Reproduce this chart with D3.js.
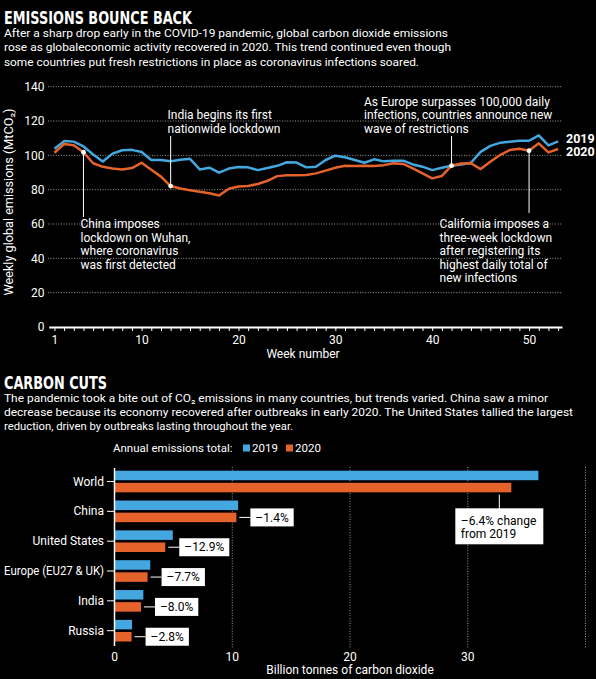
<!DOCTYPE html>
<html>
<head>
<meta charset="utf-8">
<script src="https://cdn.jsdelivr.net/npm/d3@7"></script>
<style>
  body { margin: 0; background: #000; }
  svg { display: block; font-family: Roboto, "Noto Sans", sans-serif; }
</style>
</head>
<body>
<div id="chart"></div>
<script>
// weekly global emissions (MtCO2), weeks 1-53
var weeks = d3.range(1, 54);
var weekly2019 = [103.8, 108.3, 108.0, 105.2, 100.5, 96.4, 101.0, 103.0, 103.2, 102.0,
  97.3, 97.3, 96.6, 97.5, 98.0, 91.8, 92.8, 89.9, 92.3, 93.2,
  93.0, 91.4, 92.6, 93.9, 96.0, 95.8, 93.0, 93.4, 97.3, 99.8,
  98.9, 97.3, 95.7, 97.7, 96.5, 96.9, 96.9, 94.7, 93.4, 91.4,
  92.8, 94.0, 94.7, 95.7, 102.0, 105.5, 107.3, 107.9, 108.5, 108.5,
  111.6, 105.8, 108.1];
var weekly2020 = [101.5, 106.6, 105.9, 101.8, 95.4, 93.3, 92.4, 91.8, 92.6, 95.7,
  91.6, 87.6, 82.1, 80.7, 79.7, 78.8, 77.9, 76.6, 80.5, 81.9,
  82.2, 83.3, 85.2, 87.9, 88.4, 88.4, 88.5, 89.5, 91.1, 92.8,
  93.9, 93.8, 94.0, 93.8, 94.3, 95.4, 95.0, 92.4, 89.5, 86.6,
  88.0, 94.0, 95.2, 95.4, 92.0, 96.3, 100.2, 103.1, 103.9, 102.7,
  107.0, 101.7, 103.7];
var yTicks = [0, 20, 40, 60, 80, 100, 120, 140];
var weekLabels = [1, 10, 20, 30, 40, 50];

// annual emissions (billion tonnes CO2)
var countries = ["World", "China", "United States", "Europe (EU27 & UK)", "India", "Russia"];
var total2019 = [36.0, 10.5, 4.95, 3.04, 2.45, 1.49];
var total2020 = [33.7, 10.35, 4.31, 2.81, 2.25, 1.45];
var changeLabels = ["\u20136.4% change", "\u20131.4%", "\u201312.9%", "\u20137.7%", "\u20138.0%", "\u20132.8%"];
var barTicks = [0, 10, 20, 30];
var barGrid = [10, 20, 30, 40];

var blue = "#45a7df", orange = "#e5622b";

var svg = d3.select("#chart").append("svg")
  .attr("width", 596).attr("height", 679);

svg.append("rect").attr("width", 596).attr("height", 679).attr("fill", "#000");

function heading(txt, x, y, len) {
  svg.append("text").attr("x", x).attr("y", y).text(txt)
    .attr("fill", "#fff")
    .style("font-family", "'Liberation Sans Narrow', 'DejaVu Sans Condensed', sans-serif")
    .style("font-weight", "bold").style("font-size", "18.5px")
    .attr("textLength", len).attr("lengthAdjust", "spacingAndGlyphs");
}
function para(lines, x, y0, lens) {
  lines.forEach(function (t, i) {
    svg.append("text").attr("x", x).attr("y", y0 + i * 14.4).text(t)
      .attr("fill", "#fff").style("font-size", "11.5px")
      .attr("textLength", lens[i]).attr("lengthAdjust", "spacingAndGlyphs");
  });
}

heading("EMISSIONS BOUNCE BACK", 4, 24.3, 188);
para(["After a sharp drop early in the COVID-19 pandemic, global carbon dioxide emissions",
      "rose as globaleconomic activity recovered in 2020. This trend continued even though",
      "some countries put fresh restrictions in place as coronavirus infections soared."],
  4, 37, [444, 447, 415]);

// ---- line chart ----
var x = d3.scaleLinear().domain([0.41, 53.4]).range([48.7, 562]);
var y = d3.scaleLinear().domain([0, 140]).range([327, 86.7]);

svg.append("g").selectAll("line").data(yTicks.filter(function (d) { return d > 0; }))
  .enter().append("line")
  .attr("x1", 48).attr("x2", 562)
  .attr("y1", function (d) { return y(d); }).attr("y2", function (d) { return y(d); })
  .attr("stroke", "#9a9a9a").attr("stroke-width", 1).attr("stroke-dasharray", "1,1.6");

svg.append("g").selectAll("text").data(yTicks).enter().append("text")
  .attr("x", 44.5).attr("y", function (d) { return y(d) + 4.3; })
  .attr("text-anchor", "end").attr("fill", "#fff").style("font-size", "12px")
  .text(function (d) { return d; });

var xAxis = svg.append("g").attr("transform", "translate(0,327)")
  .call(d3.axisBottom(x).tickValues(weeks).tickSize(4).tickSizeOuter(0).tickPadding(4)
    .tickFormat(function (d) { return weekLabels.indexOf(d) >= 0 ? d : ""; }));
xAxis.select(".domain").attr("stroke", "#fff").attr("stroke-width", 2);
xAxis.selectAll(".tick line").attr("stroke", "#fff");
xAxis.selectAll(".tick text").attr("fill", "#fff").style("font-size", "12px")
  .style("font-family", "Roboto, sans-serif");

svg.append("text").attr("x", 303).attr("y", 357.5).attr("text-anchor", "middle")
  .attr("fill", "#fff").style("font-size", "12px").text("Week number");

svg.append("text").attr("transform", "translate(12.5,202) rotate(-90)")
  .attr("text-anchor", "middle").attr("fill", "#fff").style("font-size", "12px")
  .attr("textLength", 187).attr("lengthAdjust", "spacingAndGlyphs")
  .text("Weekly global emissions (MtCO\u2082)");

var line = d3.line()
  .x(function (d, i) { return x(weeks[i]); })
  .y(function (d) { return y(d); });

svg.append("path").datum(weekly2019).attr("d", line)
  .attr("fill", "none").attr("stroke", blue).attr("stroke-width", 2.5).attr("stroke-linejoin", "round");
svg.append("path").datum(weekly2020).attr("d", line)
  .attr("fill", "none").attr("stroke", orange).attr("stroke-width", 2.5).attr("stroke-linejoin", "round");

svg.append("text").attr("x", 566).attr("y", 142.5).text("2019")
  .attr("fill", "#fff").style("font-size", "12.5px").style("font-weight", "bold");
svg.append("text").attr("x", 566).attr("y", 156).text("2020")
  .attr("fill", "#fff").style("font-size", "12.5px").style("font-weight", "bold");

// annotations on the 2020 line
var notes = [
  { week: 4, lineEnd: 217, tx: 80.5, ty: 228.3, lines: ["China imposes", "lockdown on Wuhan,", "where coronavirus", "was first detected"] },
  { week: 13, lineEnd: 136, tx: 167.5, ty: 119.3, lines: ["India begins its first", "nationwide lockdown"] },
  { week: 42, lineEnd: 136, tx: 364, ty: 105.8, lines: ["As Europe surpasses 100,000 daily", "infections, countries announce new", "wave of restrictions"] },
  { week: 50, lineEnd: 213, tx: 439.5, ty: 228.3, lines: ["California imposes a", "three-week lockdown", "after registering its", "highest daily total of", "new infections"] }
];
notes.forEach(function (n) {
  var px = x(n.week), py = y(weekly2020[n.week - 1]);
  svg.append("line").attr("x1", px).attr("x2", px).attr("y1", py).attr("y2", n.lineEnd)
    .attr("stroke", "#fff").attr("stroke-width", 1);
  svg.append("circle").attr("cx", px).attr("cy", py).attr("r", 2.4).attr("fill", "#fff");
  n.lines.forEach(function (t, i) {
    svg.append("text").attr("x", n.tx).attr("y", n.ty + i * 13.4).text(t)
      .attr("fill", "#fff").style("font-size", "12px");
  });
});

// ---- bar chart ----
heading("CARBON CUTS", 4, 388.5, 103);
para(["The pandemic took a bite out of CO\u2082 emissions in many countries, but trends varied. China saw a minor",
      "decrease because its economy recovered after outbreaks in early 2020. The United States tallied the largest",
      "reduction, driven by outbreaks lasting throughout the year."],
  4, 401.5, [544, 569, 289]);

svg.append("text").attr("x", 113).attr("y", 452).text("Annual emissions total:")
  .attr("fill", "#fff").style("font-size", "11.5px");
[["2019", blue, 243], ["2020", orange, 286]].forEach(function (l) {
  svg.append("rect").attr("x", l[2]).attr("y", 444.5).attr("width", 7).attr("height", 7).attr("fill", l[1]);
  svg.append("text").attr("x", l[2] + 9).attr("y", 452).text(l[0])
    .attr("fill", "#fff").style("font-size", "11.5px");
});

var xb = d3.scaleLinear().domain([0, 40]).range([114.5, 585.5]);
var yb = d3.scaleBand().domain(countries).range([466.6, 645.6]).paddingInner(0.275).paddingOuter(0.1375);
var yy = d3.scaleBand().domain(["2019", "2020"]).range([0, yb.bandwidth()]).paddingInner(0.215);

svg.append("g").selectAll("line").data(barGrid).enter().append("line")
  .attr("x1", function (d) { return xb(d); }).attr("x2", function (d) { return xb(d); })
  .attr("y1", 467).attr("y2", 648)
  .attr("stroke", "#9a9a9a").attr("stroke-width", 1).attr("stroke-dasharray", "1,1.6");

svg.append("g").selectAll("text").data(barTicks).enter().append("text")
  .attr("x", function (d) { return xb(d); }).attr("y", 660.5)
  .attr("text-anchor", "middle").attr("fill", "#fff").style("font-size", "12px")
  .text(function (d) { return d; });

svg.append("text").attr("x", 350).attr("y", 674).attr("text-anchor", "middle")
  .attr("fill", "#fff").style("font-size", "12px").text("Billion tonnes of carbon dioxide");

svg.append("g").selectAll("rect").data(countries).enter().append("rect")
  .attr("x", xb(0)).attr("y", function (d) { return yb(d) + yy("2019"); })
  .attr("width", function (d, i) { return xb(total2019[i]) - xb(0); })
  .attr("height", yy.bandwidth()).attr("fill", blue);
svg.append("g").selectAll("rect").data(countries).enter().append("rect")
  .attr("x", xb(0)).attr("y", function (d) { return yb(d) + yy("2020"); })
  .attr("width", function (d, i) { return xb(total2020[i]) - xb(0); })
  .attr("height", yy.bandwidth()).attr("fill", orange);

svg.append("line").attr("x1", xb(0)).attr("x2", xb(0)).attr("y1", 468).attr("y2", 646)
  .attr("stroke", "#fff").attr("stroke-width", 1.5);

countries.forEach(function (c, i) {
  var cy = yb(c) + yb.bandwidth() / 2;
  svg.append("line").attr("x1", 107).attr("x2", xb(0)).attr("y1", cy).attr("y2", cy)
    .attr("stroke", "#fff").attr("stroke-width", 1);
  var lab = svg.append("text").attr("x", 104).attr("y", cy + 4).attr("text-anchor", "end")
    .attr("fill", "#fff").style("font-size", "12px").text(c);
  if (lab.node().getComputedTextLength() > 100) {
    lab.attr("textLength", 100).attr("lengthAdjust", "spacingAndGlyphs");
  }

  var end = xb(total2020[i]);
  var oy = yb(c) + yy("2020") + yy.bandwidth() / 2;
  if (i === 0) {
    var cx = end - 12;
    svg.append("line").attr("x1", cx).attr("x2", cx).attr("y1", oy + 7).attr("y2", 509)
      .attr("stroke", "#fff").attr("stroke-width", 1);
    svg.append("rect").attr("x", cx - 44).attr("y", 508.3).attr("width", 88).attr("height", 36).attr("fill", "#fff");
    svg.append("text").attr("x", cx - 38.5).attr("y", 524.5).text(changeLabels[i])
      .attr("fill", "#000").style("font-size", "12px");
    svg.append("text").attr("x", cx - 38.5).attr("y", 537.5).text("from 2019")
      .attr("fill", "#000").style("font-size", "12px");
  } else {
    var bx = end + 14;
    svg.append("line").attr("x1", end + 3).attr("x2", bx).attr("y1", oy).attr("y2", oy)
      .attr("stroke", "#fff").attr("stroke-width", 1);
    var box = svg.append("rect").attr("x", bx).attr("y", oy - 9).attr("height", 18).attr("fill", "#fff");
    var t = svg.append("text").attr("x", bx + 5).attr("y", oy + 4.2).text(changeLabels[i])
      .attr("fill", "#000").style("font-size", "12px");
    box.attr("width", t.node().getComputedTextLength() + 10);
  }
});
</script>
</body>
</html>
